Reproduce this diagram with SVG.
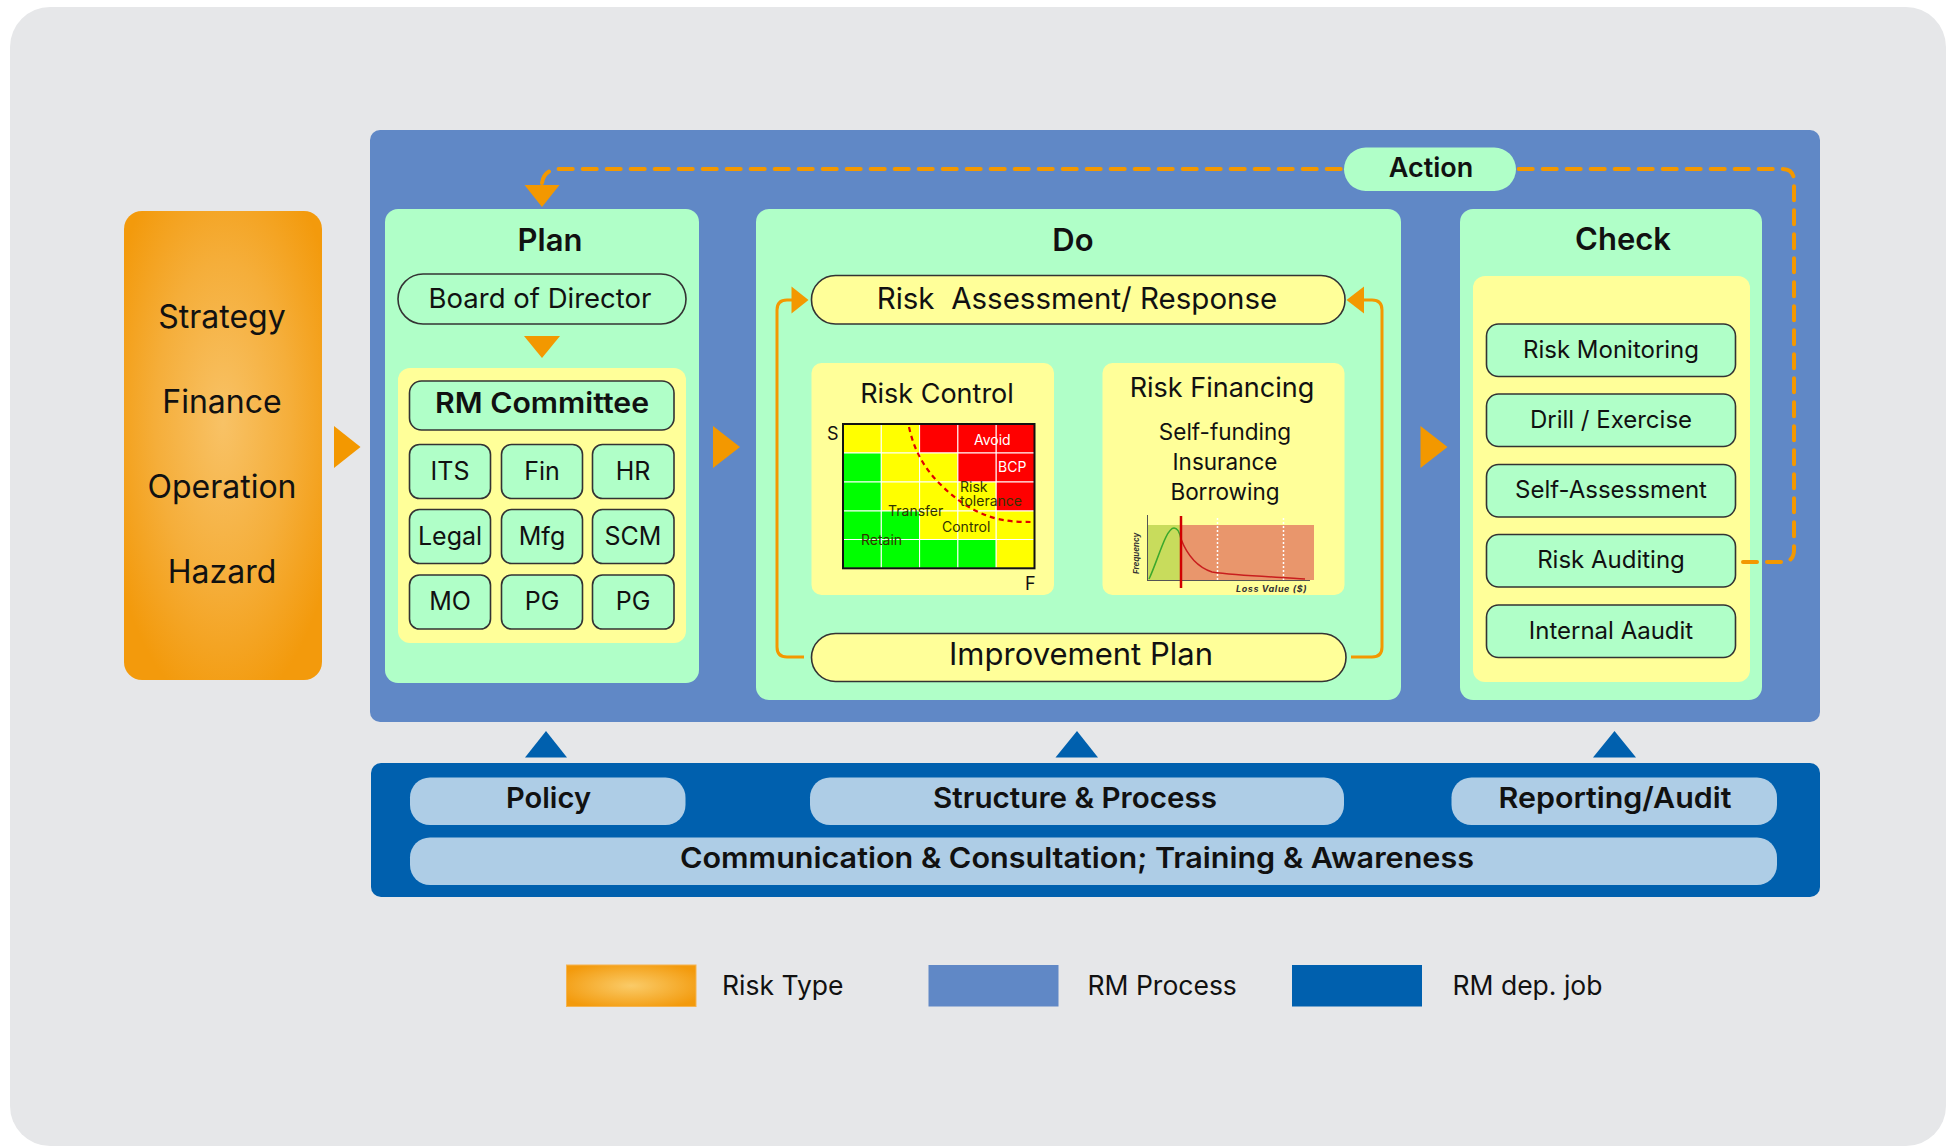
<svg xmlns="http://www.w3.org/2000/svg" width="1946" height="1146" viewBox="0 0 1946 1146">
  <style>
    text { font-family: Inter, "Noto Sans", "DejaVu Sans", sans-serif; fill: #111; }
    .c { text-anchor: middle; }
    .title { font-size: 31px; font-weight: 600; }
    .mint { fill: #B0FFC8; }
    .pale { fill: #FFFF99; }
    .pill { stroke: #333; stroke-width: 1.6; }
    .orange { fill: #F39800; }
    .bracket { fill: none; stroke: #F39800; stroke-width: 3; }
    .dash { fill: none; stroke: #F39800; stroke-width: 4; stroke-dasharray: 14 10; stroke-linecap: round; }
    .support { fill: #AECDE6; }
    .sup { font-size: 29px; font-weight: 600; }
    .cell { font-size: 25px; }
    .item { font-size: 24px; }
    .legend { font-size: 26.5px; }
    .tiny { font-size: 14px; }
  </style>
  <defs>
    <radialGradient id="riskGrad" cx="50%" cy="45%" r="62%">
      <stop offset="0" stop-color="#F8C266"/>
      <stop offset="0.55" stop-color="#F5AE3A"/>
      <stop offset="1" stop-color="#F39A0C"/>
    </radialGradient>
    <radialGradient id="swatchGrad" cx="50%" cy="50%" r="60%">
      <stop offset="0" stop-color="#FACB68"/>
      <stop offset="1" stop-color="#F39A0C"/>
    </radialGradient>
  </defs>

  <!-- page -->
  <rect x="0" y="0" width="1946" height="1146" fill="#FFFFFF"/>
  <rect x="10" y="7" width="1936" height="1139" rx="40" fill="#E6E7E9"/>

  <!-- risk types -->
  <g id="risk-type">
    <rect x="124" y="211" width="198" height="469" rx="18" fill="url(#riskGrad)"/>
    <text class="c" x="222" y="328" font-size="32">Strategy</text>
    <text class="c" x="222" y="413" font-size="32">Finance</text>
    <text class="c" x="222" y="498" font-size="32">Operation</text>
    <text class="c" x="222" y="583" font-size="32">Hazard</text>
  </g>

  <!-- RM process frame -->
  <g id="rm-process">
    <rect x="370" y="130" width="1450" height="592" rx="10" fill="#6088C6"/>
  </g>

  <!-- Plan -->
  <g id="plan">
    <rect class="mint" x="385" y="209" width="314" height="474" rx="13"/>
    <text class="c title" x="550" y="251">Plan</text>
    <rect class="mint pill" x="398" y="274" width="288" height="50" rx="25"/>
    <text class="c" x="540" y="308" font-size="27.5">Board of Director</text>
    <rect class="pale" x="398" y="368" width="288" height="275" rx="12"/>
    <g id="rm-committee">
      <rect class="mint pill" x="409.5" y="381" width="264.5" height="49" rx="12"/>
      <text class="c" x="542" y="413" font-size="28" font-weight="600" textLength="214" lengthAdjust="spacingAndGlyphs">RM Committee</text>
    </g>
    <g id="departments">
      <rect class="mint pill" x="409.5" y="444.5" width="81" height="54" rx="10"/>
      <rect class="mint pill" x="501.5" y="444.5" width="81" height="54" rx="10"/>
      <rect class="mint pill" x="592.5" y="444.5" width="81.5" height="54" rx="10"/>
      <rect class="mint pill" x="409.5" y="509.5" width="81" height="54" rx="10"/>
      <rect class="mint pill" x="501.5" y="509.5" width="81" height="54" rx="10"/>
      <rect class="mint pill" x="592.5" y="509.5" width="81.5" height="54" rx="10"/>
      <rect class="mint pill" x="409.5" y="575" width="81" height="54" rx="10"/>
      <rect class="mint pill" x="501.5" y="575" width="81" height="54" rx="10"/>
      <rect class="mint pill" x="592.5" y="575" width="81.5" height="54" rx="10"/>
      <text class="c cell" x="450" y="480">ITS</text>
      <text class="c cell" x="542" y="480">Fin</text>
      <text class="c cell" x="633" y="480">HR</text>
      <text class="c cell" x="450" y="545">Legal</text>
      <text class="c cell" x="542" y="545">Mfg</text>
      <text class="c cell" x="633" y="545">SCM</text>
      <text class="c cell" x="450" y="610">MO</text>
      <text class="c cell" x="542" y="610">PG</text>
      <text class="c cell" x="633" y="610">PG</text>
    </g>
  </g>

  <!-- Do -->
  <g id="do">
    <rect class="mint" x="756" y="209" width="645" height="491" rx="13"/>
    <text class="c title" x="1073" y="251">Do</text>
    <g id="risk-assessment">
      <rect class="pale pill" x="811.5" y="275.5" width="533.5" height="48.5" rx="24"/>
      <text class="c" x="1077" y="309" font-size="29.5">Risk&#160; Assessment/ Response</text>
    </g>
    <g id="risk-control">
      <rect class="pale" x="811.5" y="363" width="242.5" height="232" rx="10"/>
      <text class="c" x="937" y="403" font-size="27">Risk Control</text>
      <!-- severity / frequency matrix -->
      <g stroke="#FFFFFF" stroke-width="1">
        <rect x="843" y="424" width="38.3" height="29" fill="#FFFF00"/>
        <rect x="881.3" y="424" width="38.3" height="29" fill="#FFFF00"/>
        <rect x="919.6" y="424" width="38.3" height="29" fill="#FF0000"/>
        <rect x="957.9" y="424" width="38.3" height="29" fill="#FF0000"/>
        <rect x="996.2" y="424" width="38.3" height="29" fill="#FF0000"/>
        <rect x="843" y="453" width="38.3" height="29" fill="#00FF00"/>
        <rect x="881.3" y="453" width="38.3" height="29" fill="#FFFF00"/>
        <rect x="919.6" y="453" width="38.3" height="29" fill="#FFFF00"/>
        <rect x="957.9" y="453" width="38.3" height="29" fill="#FF0000"/>
        <rect x="996.2" y="453" width="38.3" height="29" fill="#FF0000"/>
        <rect x="843" y="482" width="38.3" height="29" fill="#00FF00"/>
        <rect x="881.3" y="482" width="38.3" height="29" fill="#FFFF00"/>
        <rect x="919.6" y="482" width="38.3" height="29" fill="#FFFF00"/>
        <rect x="957.9" y="482" width="38.3" height="29" fill="#FFFF00"/>
        <rect x="996.2" y="482" width="38.3" height="29" fill="#FF0000"/>
        <rect x="843" y="511" width="38.3" height="28.5" fill="#00FF00"/>
        <rect x="881.3" y="511" width="38.3" height="28.5" fill="#00FF00"/>
        <rect x="919.6" y="511" width="38.3" height="28.5" fill="#FFFF00"/>
        <rect x="957.9" y="511" width="38.3" height="28.5" fill="#FFFF00"/>
        <rect x="996.2" y="511" width="38.3" height="28.5" fill="#FFFF00"/>
        <rect x="843" y="539.5" width="38.3" height="28.8" fill="#00FF00"/>
        <rect x="881.3" y="539.5" width="38.3" height="28.8" fill="#00FF00"/>
        <rect x="919.6" y="539.5" width="38.3" height="28.8" fill="#00FF00"/>
        <rect x="957.9" y="539.5" width="38.3" height="28.8" fill="#00FF00"/>
        <rect x="996.2" y="539.5" width="38.3" height="28.8" fill="#FFFF00"/>
      </g>
      <rect x="843" y="424" width="191.5" height="144.3" fill="none" stroke="#111" stroke-width="2"/>
      <path d="M909,427 C914,450 924,468 940,484 C956,500 974,513 998,519 C1012,522 1022,522 1032,522" fill="none" stroke="#E00000" stroke-width="2.2" stroke-dasharray="5 4"/>
      <text class="tiny" x="974" y="445" style="fill:#FFFFFF">Avoid</text>
      <text class="tiny" x="998" y="472" style="fill:#FFFFFF">BCP</text>
      <text class="tiny" x="960" y="492" style="fill:#333300">Risk</text>
      <text class="tiny" x="960" y="506" style="fill:#333300">tolerance</text>
      <text class="tiny" x="888" y="516" style="fill:#333300">Transfer</text>
      <text class="tiny" x="942" y="532" style="fill:#333300">Control</text>
      <text class="tiny" x="861" y="545" style="fill:#333300">Retain</text>
      <text x="827" y="440" font-size="18">S</text>
      <text x="1025" y="590" font-size="18">F</text>
    </g>
    <g id="risk-financing">
      <rect class="pale" x="1102.5" y="363" width="242" height="232" rx="10"/>
      <text class="c" x="1222" y="397" font-size="27">Risk Financing</text>
      <text class="c" x="1225" y="440" font-size="22.5">Self-funding</text>
      <text class="c" x="1225" y="470" font-size="22.5">Insurance</text>
      <text class="c" x="1225" y="500" font-size="22.5">Borrowing</text>
      <!-- loss distribution chart -->
      <rect x="1148" y="525" width="33" height="55" fill="#C8DC5C"/>
      <rect x="1181" y="525" width="133" height="55" fill="#E9966C"/>
      <line x1="1217.5" y1="518" x2="1217.5" y2="580" stroke="#FFFFFF" stroke-width="1.5" stroke-dasharray="2 2"/>
      <line x1="1283.5" y1="518" x2="1283.5" y2="580" stroke="#FFFFFF" stroke-width="1.5" stroke-dasharray="2 2"/>
      <path d="M1149,579 C1158,560 1166,528 1174,528 C1178,528 1180,534 1181,539" fill="none" stroke="#3CA82C" stroke-width="1.5"/>
      <path d="M1181,539 C1186,552 1194,566 1212,572 C1240,576 1280,577 1305,579" fill="none" stroke="#C81E1E" stroke-width="1.5"/>
      <line x1="1147.5" y1="515" x2="1147.5" y2="580.5" stroke="#555" stroke-width="1"/>
      <line x1="1147" y1="580.5" x2="1310" y2="580.5" stroke="#555" stroke-width="1"/>
      <line x1="1181" y1="516" x2="1181" y2="588" stroke="#D00000" stroke-width="2.5"/>
      <text x="0" y="0" font-size="8" font-style="italic" font-weight="700" transform="translate(1139,574) rotate(-90)" style="fill:#333">Frequency</text>
      <text x="1236" y="592" font-size="9" font-style="italic" font-weight="700" letter-spacing="0.6" style="fill:#333">Loss Value ($)</text>
    </g>
    <g id="improvement-plan">
      <rect class="pale pill" x="811.5" y="633.5" width="534.5" height="48" rx="24"/>
      <text class="c" x="1081" y="665" font-size="31">Improvement Plan</text>
    </g>
  </g>

  <!-- Check -->
  <g id="check">
    <rect class="mint" x="1460" y="209" width="302" height="491" rx="13"/>
    <text class="c title" x="1623" y="250" font-size="32">Check</text>
    <rect class="pale" x="1473" y="276" width="277" height="406" rx="12"/>
    <rect class="mint pill" x="1486.5" y="324" width="249" height="52.5" rx="12"/>
    <rect class="mint pill" x="1486.5" y="394" width="249" height="52.5" rx="12"/>
    <rect class="mint pill" x="1486.5" y="464.5" width="249" height="52.5" rx="12"/>
    <rect class="mint pill" x="1486.5" y="534.5" width="249" height="52.5" rx="12"/>
    <rect class="mint pill" x="1486.5" y="605" width="249" height="52.5" rx="12"/>
    <text class="c item" x="1611" y="358">Risk Monitoring</text>
    <text class="c item" x="1611" y="428">Drill / Exercise</text>
    <text class="c item" x="1611" y="498">Self-Assessment</text>
    <text class="c item" x="1611" y="568">Risk Auditing</text>
    <text class="c item" x="1611" y="639">Internal Aaudit</text>
  </g>

  <!-- connectors -->
  <g id="connectors">
    <!-- feedback loop from Check back to Plan -->
    <path class="dash" d="M1743,562 H1782 Q1794,562 1794,550 V181 Q1794,169 1782,169 H560 Q544,169 542,183"/>
    <polygon class="orange" points="524.5,185 559.5,185 542,207"/>
    <!-- stage arrows -->
    <polygon class="orange" points="334,426 360.5,447 334,468"/>
    <polygon class="orange" points="713,426 740,447 713,468"/>
    <polygon class="orange" points="1420.5,426 1447.5,447 1420.5,468"/>
    <!-- board to committee -->
    <polygon class="orange" points="524,336 560,336 542,358"/>
    <!-- improvement loop around assessment -->
    <path class="bracket" d="M804,657 H787 Q777,657 777,647 V310 Q777,300 787,300 H793"/>
    <polygon class="orange" points="791.5,286.5 808.5,300 791.5,313.5"/>
    <path class="bracket" d="M1351,657 H1372 Q1382,657 1382,647 V310 Q1382,300 1372,300 H1363"/>
    <polygon class="orange" points="1364,286.5 1346.5,300 1364,313.5"/>
    <!-- support arrows -->
    <polygon fill="#0060AE" points="525,757.5 546,731 567,757.5"/>
    <polygon fill="#0060AE" points="1055.5,757.5 1077,731 1098,757.5"/>
    <polygon fill="#0060AE" points="1593,757.5 1614.5,731 1636,757.5"/>
  </g>

  <!-- Action label sits on the loop -->
  <g id="action">
    <rect class="mint" x="1344" y="147.5" width="172" height="43.5" rx="21.7"/>
    <text class="c" x="1431" y="177" font-size="27" font-weight="600">Action</text>
  </g>

  <!-- RM department jobs -->
  <g id="rm-dep-job">
    <rect x="371" y="763" width="1449" height="134" rx="10" fill="#0060AE"/>
    <g id="policy">
      <rect class="support" x="410" y="777.5" width="275.5" height="47.5" rx="20"/>
      <text class="c sup" x="548.5" y="808" textLength="85" lengthAdjust="spacingAndGlyphs">Policy</text>
    </g>
    <g id="structure-process">
      <rect class="support" x="810" y="777.5" width="534" height="47.5" rx="20"/>
      <text class="c sup" x="1075" y="808" textLength="284" lengthAdjust="spacingAndGlyphs">Structure &amp; Process</text>
    </g>
    <g id="reporting-audit">
      <rect class="support" x="1451.5" y="777.5" width="325.5" height="47.5" rx="20"/>
      <text class="c sup" x="1615" y="808" textLength="233" lengthAdjust="spacingAndGlyphs">Reporting/Audit</text>
    </g>
    <g id="communication">
      <rect class="support" x="410" y="837.5" width="1367" height="47.5" rx="20"/>
      <text class="c sup" x="1077" y="868" textLength="794" lengthAdjust="spacingAndGlyphs">Communication &amp; Consultation; Training &amp; Awareness</text>
    </g>
  </g>

  <!-- legend -->
  <g id="legend">
    <rect x="566.5" y="965" width="129.5" height="41.5" fill="url(#swatchGrad)" stroke="#F5B450" stroke-width="1"/>
    <text class="legend" x="722" y="995">Risk Type</text>
    <rect x="928.5" y="965" width="130" height="41.5" fill="#6088C6"/>
    <text class="legend" x="1087.5" y="995">RM Process</text>
    <rect x="1292" y="965" width="130" height="41.5" fill="#0060AE"/>
    <text class="legend" x="1452.5" y="995">RM dep. job</text>
  </g>
</svg>
